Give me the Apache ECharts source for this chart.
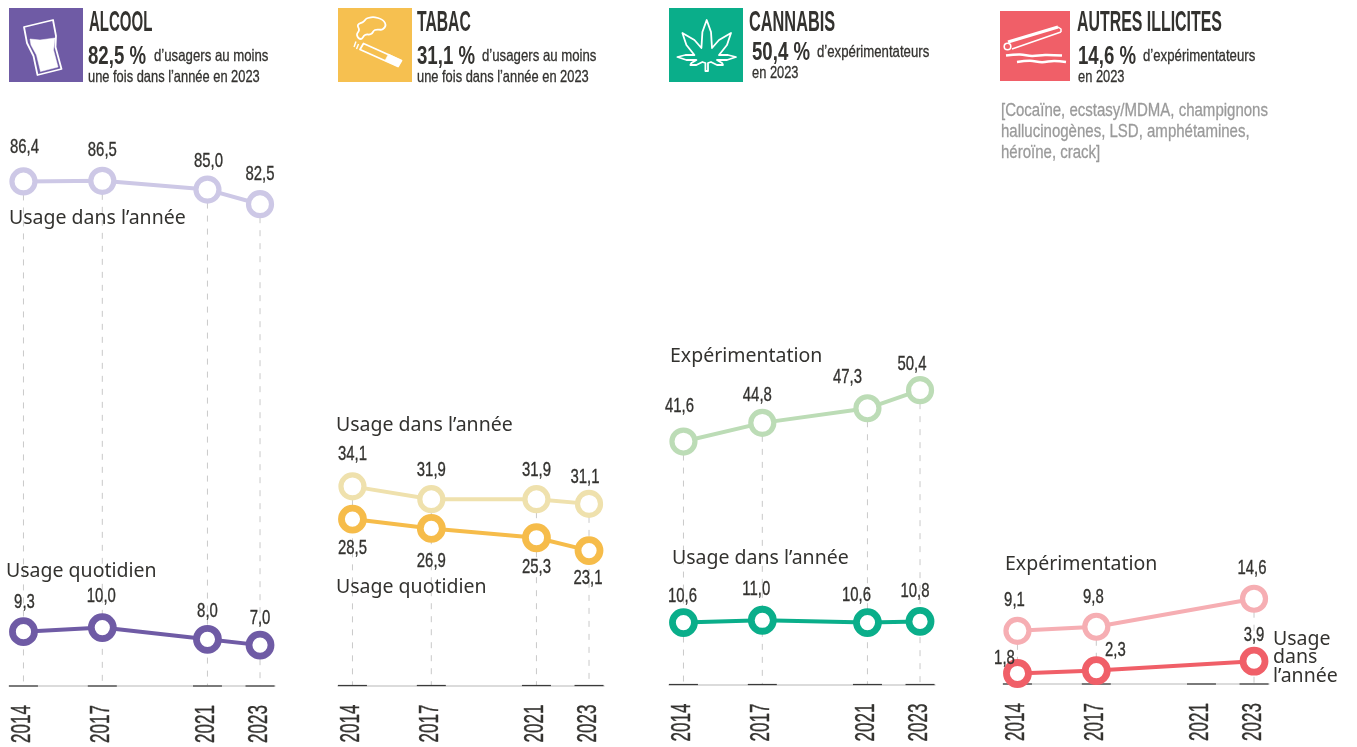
<!DOCTYPE html>
<html><head><meta charset="utf-8">
<script src="https://cdn.jsdelivr.net/npm/echarts@6/dist/echarts.min.js"></script>
<style>html,body{margin:0;padding:0;background:#fff}#c{width:1357px;height:747px}</style>
</head><body><div id="c"></div>
<script>
const years = [2014, 2017, 2021, 2023];
const alcoolAnnee = [86.4, 86.5, 85.0, 82.5];
const alcoolQuotidien = [9.3, 10.0, 8.0, 7.0];
const tabacAnnee = [34.1, 31.9, 31.9, 31.1];
const tabacQuotidien = [28.5, 26.9, 25.3, 23.1];
const cannabisExperimentation = [41.6, 44.8, 47.3, 50.4];
const cannabisAnnee = [10.6, 11.0, 10.6, 10.8];
const autresExperimentation = [9.1, 9.8, null, 14.6];
const autresAnnee = [1.8, 2.3, null, 3.9];

const NARROW = '"Liberation Sans",sans-serif';
const HUMAN = '"Noto Sans",sans-serif';
const INK = '#33322f';
const LIGHT_RING = {size:23, bw:5.2}, DARK_RING = {size:22, bw:6.8};

// layout of each panel (pixels), kept apart from the data
const panels = [
 {left:9, baseline:686, lines:[
  {name:'Usage dans l’année', data:alcoolAnnee, color:'#cdc8e6', ring:LIGHT_RING, off:[[1,-34],[0,-31],[1,-28],[0,-30]]},
  {name:'Usage quotidien', data:alcoolQuotidien, color:'#6f5ba5', ring:DARK_RING, off:[[1,-29],[-1,-31],[0,-28],[0,-27]]}]},
 {left:338, baseline:685.5, lines:[
  {name:'Usage dans l’année', data:tabacAnnee, color:'#efe1ad', ring:LIGHT_RING, off:[[0,-32],[0,-29],[0,-29],[-4,-27]]},
  {name:'Usage quotidien', data:tabacQuotidien, color:'#f6bc4a', ring:DARK_RING, off:[[0,29],[0,33],[0,29],[-1,28]]}]},
 {left:669, baseline:684.5, lines:[
  {name:'Expérimentation', data:cannabisExperimentation, color:'#bcdcb6', ring:LIGHT_RING, off:[[-4,-35],[-5,-28],[-20,-31],[-8,-26]]},
  {name:'Usage dans l’année', data:cannabisAnnee, color:'#0aae8a', ring:DARK_RING, off:[[-1,-26],[-6,-31],[-11,-27],[-5,-30]]}]},
 {left:1003, baseline:684, lines:[
  {name:'Expérimentation', data:autresExperimentation, color:'#f6aeb3', ring:LIGHT_RING, off:[[-3,-31],[-3,-30],[0,0],[-2,-31]]},
  {name:'Usage dans l’année', data:autresAnnee, color:'#f05f68', ring:DARK_RING, off:[[-13,-15],[19,-20],[0,0],[0,-26]]}]}
];
const PX_PER_UNIT = 5.84, AXIS_MAX = 100, PANEL_W = 266;

const grid=[], xAxis=[], yAxis=[], series=[];
panels.forEach((p,i)=>{
  grid.push({left:p.left, width:PANEL_W, top:p.baseline-AXIS_MAX*PX_PER_UNIT, height:AXIS_MAX*PX_PER_UNIT, outerBoundsMode:'none'});
  xAxis.push({gridIndex:i, type:'value', min:2013.45, max:2023.57, splitLine:{show:false},
    axisLine:{show:true, onZero:false, lineStyle:{color:'#cfcfcf', width:1.5}},
    axisTick:{show:false}, axisLabel:{show:false}});
  yAxis.push({gridIndex:i, type:'value', min:0, max:AXIS_MAX, show:false});

  // dashed drop lines
  const tops = years.map((y,k)=>[y, Math.max(...p.lines.map(l=>l.data[k]===null?-1:l.data[k]))]).filter(d=>d[1]>=0);
  series.push({type:'custom', xAxisIndex:i, yAxisIndex:i, silent:true, clip:false, z:1, data:tops,
    renderItem:(ctx,api)=>{
      const a=api.coord([api.value(0),api.value(1)]), b=api.coord([api.value(0),0]);
      return {type:'line', shape:{x1:a[0],y1:a[1],x2:b[0],y2:b[1]},
        style:{stroke:'#c9c9c9', lineWidth:1, lineDash:[6,7]}};
    }});
  // dark tick segments on the baseline, with the condensed rotated year under each
  series.push({type:'custom', xAxisIndex:i, yAxisIndex:i, silent:true, clip:false, z:2, data:years.map(y=>[y,0]),
    renderItem:(ctx,api)=>{
      const a=api.coord([api.value(0),0]);
      return {type:'group', children:[
        {type:'line', shape:{x1:a[0]-14.5,y1:a[1],x2:a[0]+14.5,y2:a[1]}, style:{stroke:'#3a3a3a', lineWidth:1.2}},
        {type:'text', x:a[0]-0.5, y:a[1]+38, rotation:Math.PI/2, scaleX:0.63,
          style:{text:String(api.value(0)), fontFamily:NARROW, fontSize:27, fill:INK, stroke:INK, lineWidth:0.4, align:'center', verticalAlign:'middle'}}
      ]};
    }});
  p.lines.forEach(l=>{
    const pts=years.map((y,k)=>l.data[k]===null?null:[y,l.data[k],k]).filter(Boolean);
    series.push({type:'line', name:l.name, xAxisIndex:i, yAxisIndex:i, z:3,
      symbol:'circle', symbolSize:l.ring.size, showSymbol:true, showAllSymbol:true, clip:false,
      lineStyle:{color:l.color, width:4},
      itemStyle:{color:'#fff', borderColor:l.color, borderWidth:l.ring.bw},
      data:pts.map(d=>[d[0],d[1]])});
    // value labels
    series.push({type:'custom', xAxisIndex:i, yAxisIndex:i, silent:true, clip:false, z:4, data:pts,
      renderItem:(ctx,api)=>{
        const a=api.coord([api.value(0),api.value(1)]), o=l.off[api.value(2)];
        return {type:'text', x:a[0]+o[0], y:a[1]+o[1], scaleX:0.71,
          style:{text:api.value(1).toFixed(1).replace('.',','), fontFamily:NARROW, fontSize:21, fill:INK, stroke:INK, lineWidth:0.35, align:'center', verticalAlign:'middle'}};
      }});
  });
});

function txt(text,x,y,size,opt={}){
  const fill=opt.fill||INK, narrowReg=!opt.bold&&!opt.font;
  const style={text, fontFamily:opt.font||NARROW, fontSize:size, fontWeight:opt.bold?'bold':'normal', fill, verticalAlign:'middle'};
  if(narrowReg){style.stroke=fill; style.lineWidth=0.3;}
  return {type:'text', x, y, scaleX:opt.sx||1, z:10, silent:true, style};
}
function box(x,y,w,h,c){return {type:'rect', z:5, silent:true, shape:{x,y,width:w,height:h}, style:{fill:c}};}
function poly(points,fill,lw,smooth){return {type:'polygon', z:6, silent:true, shape:{points,smooth:smooth||0}, style:{fill:fill?'#fff':'none', stroke:'#fff', lineWidth:lw||1.6, lineJoin:'round'}};}
function pl(points,lw,smooth){return {type:'polyline', z:6, silent:true, shape:{points,smooth:smooth||0}, style:{fill:'none', stroke:'#fff', lineWidth:lw||1.6, lineJoin:'round'}};}
const leafHalf=[[706.7,20],[711,32],[712,48],[719,40],[731,33],[727,45],[719,55],[728,55],[736,57],[727,60],[717,60],[722,63],[723,65],[717,65],[711,62],[708,63],[708,71]];
const leaf=leafHalf.concat(leafHalf.slice(1).reverse().map(p=>[2*706.7-p[0],p[1]]));

const PCT={bold:true,sx:0.745}, S1=0.8, S2=0.78;
const graphic=[
 box(9,8,74,74,'#6f5ba5'), box(338,8,74,74,'#f6c050'), box(669,8,74,74,'#0aae8a'), box(1000,11,70,70,'#f05f68'),
 // glass
 poly([[24,27],[53,20],[56,36],[55.5,47],[61.5,69],[37.5,75],[33.5,56],[27,43]],false,1.8),
 poly([[30,39],[40,40],[55,38],[53.5,50],[58,67],[40.5,71.5],[36.5,55],[31,45]],true,0.5),
 // cigarette + smoke
 poly([[363.5,43.5],[401.5,60.5],[398,66.5],[360,49.5]],false,1.8),
 poly([[388.5,54],[401.5,60.5],[398,66.5],[385,60.5]],true,0.5),
 pl([[358.5,44],[356.5,49]],1.4), pl([[356,41.5],[354,47]],1.4),
 poly([[361,39],[357,35],[359,30],[358,25],[363,22],[368,18],[378,18],[385,23],[383,29],[375,30],[371,34],[365,35]],false,1.8,0.5),
 // cannabis leaf
 poly(leaf,false,1.8),
 // tube + powder
 pl([[1008,42],[1058,27]],3.2),
 pl([[1012,49],[1061,32]],1.5),
 pl([[1058,27],[1061,29],[1061,32]],1.5),
 {type:'circle', z:6, silent:true, shape:{cx:1007.5,cy:46.5,r:3.3}, style:{fill:'none',stroke:'#fff',lineWidth:1.6}},
 pl([[1006,55.5],[1020,54.5],[1032,56],[1045,55],[1062,55.5]],2.5,0.4),
 pl([[1017,62],[1030,60.8],[1042,62.2],[1054,61],[1066,62]],2.5,0.4),

 txt('ALCOOL',89,23,30,{bold:true,sx:0.5}),
 txt('82,5 %',88,57,25,PCT),
 txt('d’usagers au moins',154,56,16.5,{sx:S1}),
 txt('une fois dans l’année en 2023',88,77,16.5,{sx:S2}),
 txt('TABAC',417,23,30,{bold:true,sx:0.523}),
 txt('31,1 %',417,57,25,PCT),
 txt('d’usagers au moins',482,56,16.5,{sx:S1}),
 txt('une fois dans l’année en 2023',417,77,16.5,{sx:S2}),
 txt('CANNABIS',749,23,30,{bold:true,sx:0.544}),
 txt('50,4 %',752,53,25,PCT),
 txt('d’expérimentateurs',817,52,16.5,{sx:S1}),
 txt('en 2023',752,73,16.5,{sx:S2}),
 txt('AUTRES ILLICITES',1077,23,30,{bold:true,sx:0.53}),
 txt('14,6 %',1078,57,25,PCT),
 txt('d’expérimentateurs',1143,56,16.5,{sx:S1}),
 txt('en 2023',1078,77,16.5,{sx:S2}),
 txt('[Cocaïne, ecstasy/MDMA, champignons',1001,111,19,{fill:'#9a9a9a',sx:0.79}),
 txt('hallucinogènes, LSD, amphétamines,',1001,132,19,{fill:'#9a9a9a',sx:0.79}),
 txt('héroïne, crack]',1001,153,19,{fill:'#9a9a9a',sx:0.79}),

 txt('Usage dans l’année',9,218,19.5,{font:HUMAN}),
 txt('Usage quotidien',6,571,19.5,{font:HUMAN}),
 txt('Usage dans l’année',336,425,19.5,{font:HUMAN}),
 txt('Usage quotidien',336,587,19.5,{font:HUMAN}),
 txt('Expérimentation',670,356,19.5,{font:HUMAN}),
 txt('Usage dans l’année',672,558,19.5,{font:HUMAN}),
 txt('Expérimentation',1005,564,19.5,{font:HUMAN}),
 txt('Usage',1273,639,19.5,{font:HUMAN}),
 txt('dans',1273,657,19.5,{font:HUMAN}),
 txt('l’année',1273,676,19.5,{font:HUMAN})
];

const chart=echarts.init(document.getElementById('c'),null,{renderer:'canvas'});
chart.setOption({animation:false, backgroundColor:'#fff', grid, xAxis, yAxis, series, graphic});
</script></body></html>
